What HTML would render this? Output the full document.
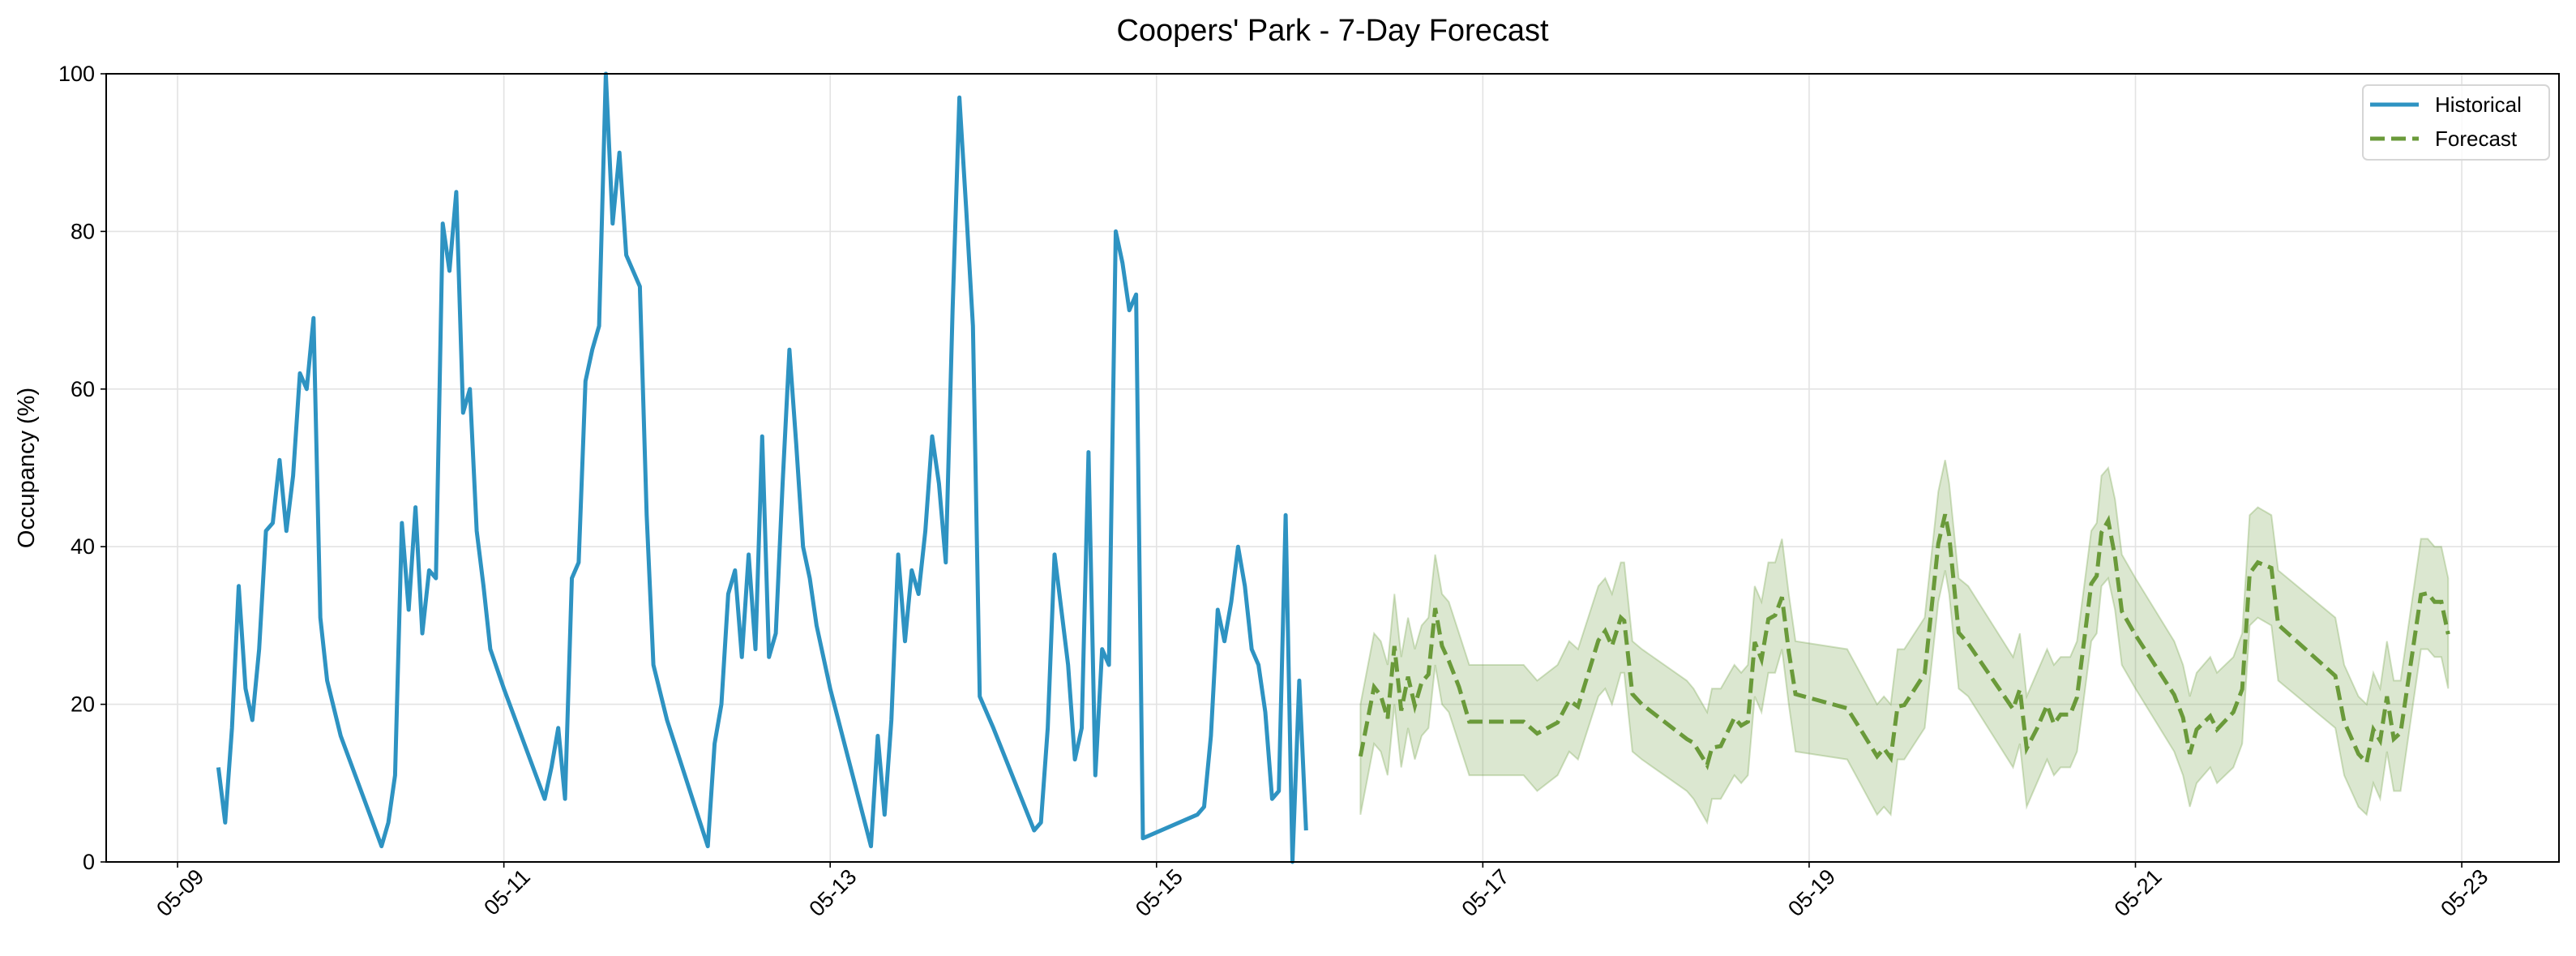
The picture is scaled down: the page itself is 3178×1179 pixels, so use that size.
<!DOCTYPE html>
<html><head><meta charset="utf-8">
<style>
html,body{margin:0;padding:0;background:#fff;}
svg{display:block;font-family:"Liberation Sans","DejaVu Sans",sans-serif;}
</style></head>
<body>
<svg id="chart" width="3178" height="1179" viewBox="0 0 3178 1179" xmlns="http://www.w3.org/2000/svg">
<rect width="3178" height="1179" fill="#fff"/>
<g id="grid"></g>
<g id="series"></g>
<g id="axes"></g>
<text x="1644" y="50" font-size="38" text-anchor="middle" fill="#000">Coopers' Park - 7-Day Forecast</text>
<text x="0" y="0" font-size="29" text-anchor="middle" fill="#000" transform="translate(42,577) rotate(-90)">Occupancy (%)</text>
<g>
<rect x="2915" y="105" width="230" height="92" rx="6" fill="#fff" fill-opacity="0.8" stroke="#d6d6d6" stroke-width="2"/>
<line x1="2924" y1="129" x2="2984" y2="129" stroke="#2e93c2" stroke-width="5"/>
<text x="3004" y="138" font-size="26" fill="#000">Historical</text>
<line x1="2924" y1="171" x2="2984" y2="171" stroke="#6a9a3a" stroke-width="5" stroke-dasharray="18,8"/>
<text x="3004" y="180" font-size="26" fill="#000">Forecast</text>
</g>
</svg>
<script>
// hours since 05-09 00:00
const histHours = [6,7,8,9,10,11,12,13,14,15,16,17,18,19,20,21,22,24,30,31,32,33,34,35,36,37,38,39,40,41,42,43,44,45,46,48,54,55,56,57,58,59,60,61,62,63,64,65,66,68,69,70,72,78,79,80,81,82,83,84,85,86,87,88,89,90,91,92,93,94,96,102,103,104,105,106,107,108,109,110,111,112,113,114,115,116,117,118,120,126,127,128,129,130,131,132,133,134,135,136,137,138,139,140,141,142,150,151,152,153,154,155,156,157,158,159,160,161,162,163,164,165,166];
const histValues = [12,5,17,35,22,18,27,42,43,51,42,49,62,60,69,31,23,16,2,5,11,43,32,45,29,37,36,81,75,85,57,60,42,35,27,22,8,12,17,8,36,38,61,65,68,100,81,90,77,73,44,25,18,2,15,20,34,37,26,39,27,54,26,29,48,65,53,40,36,30,22,2,16,6,18,39,28,37,34,42,54,48,38,70,97,83,68,21,17,4,5,17,39,32,25,13,17,52,11,27,25,80,76,70,72,3,6,7,16,32,28,33,40,35,27,25,19,8,9,44,0,23,4];
const fcHours = [174,176,177,178,179,180,181,182,183,184,185,186,187,188.5,190,198,200,203,204.7,206,209,210,211,212.3,212.8,214,215.4,222,223,225,225.7,227,229,230,231,232,233,234,235,236,237,238,245.6,247.5,250,251,252,253,254,257,259,260,260.6,262,263.4,270,271,272,273.5,275,276,277,278.4,279.4,281.5,282.3,283,284,285,286,288,293.7,295,296,297,299,300,302.4,303.7,304.8,306,308,309,317.4,318.7,320.8,322,323,324,325,326,327,330,331,332,333,334];
const fcMean = [13.4,22.2,21.1,18.2,27.4,19.2,23.5,19.8,22.8,23.8,32.2,27.4,25.5,22.2,17.8,17.8,16.3,17.7,20.5,19.7,28.1,29.3,27.4,31.0,30.6,21.3,20.0,15.6,15.1,12.3,14.5,14.7,18.3,17.3,17.8,27.9,25.7,30.8,31.3,33.6,26.7,21.3,19.5,16.9,13.4,14.4,13.2,19.7,19.9,23.9,40.4,44.1,41.4,29.1,27.7,19.4,21.9,14.4,16.9,19.9,17.5,18.7,18.7,20.9,35.3,36.3,41.8,43.3,38.7,31.8,28.8,21.2,18.3,13.7,16.8,18.5,16.8,19.0,21.9,36.6,38.0,37.3,30.1,23.6,17.8,13.7,12.6,16.8,15.4,21.0,15.6,16.4,33.9,34.1,33.0,33.0,28.9];
const fcUpper = [20,29,28,25,34,26,31,27,30,31,39,34,33,29,25,25,23,25,28,27,35,36,34,38,38,28,27,23,22,19,22,22,25,24,25,35,33,38,38,41,34,28,27,24,20,21,20,27,27,31,47,51,48,36,35,26,29,21,24,27,25,26,26,28,42,43,49,50,46,39,36,28,25,21,24,26,24,26,29,44,45,44,37,31,25,21,20,24,22,28,23,23,41,41,40,40,36];
const fcLower = [6,15,14,11,20,12,17,13,16,17,25,20,19,15,11,11,9,11,14,13,21,22,20,24,24,14,13,9,8,5,8,8,11,10,11,21,19,24,24,27,20,14,13,10,6,7,6,13,13,17,33,37,34,22,21,12,15,7,10,13,11,12,12,14,28,29,35,36,32,25,22,14,11,7,10,12,10,12,15,30,31,30,23,17,11,7,6,10,8,14,9,9,27,27,26,26,22];
const xTickHours = [0,48,96,144,192,240,288,336];
const xTickLabels = ["05-09","05-11","05-13","05-15","05-17","05-19","05-21","05-23"];
const yTicks = [0,20,40,60,80,100];

const L=131,R=3157,T=91,B=1063;
const hMin=-10.5,hMax=350.3;
function xs(h){return L+(h-hMin)/(hMax-hMin)*(R-L);}
function ys(v){return B-v/100*(B-T);}
const NS="http://www.w3.org/2000/svg";
function mk(tag,attrs,parent){const e=document.createElementNS(NS,tag);for(const k in attrs)e.setAttribute(k,attrs[k]);parent.appendChild(e);return e;}
const grid=document.getElementById('grid'),series=document.getElementById('series'),axes=document.getElementById('axes');

xTickHours.forEach((h,i)=>{
  const x=xs(h);
  const g=mk('line',{x1:x,y1:T,x2:x,y2:B,stroke:'#e3e3e3','stroke-width':1.6},grid);
  
  
  const t=mk('line',{x1:x,y1:B,x2:x,y2:B+7,stroke:'#000','stroke-width':1.6},axes);
  
  
  const lb=mk('text',{x:0,y:0,'font-size':27,'text-anchor':'end',fill:'#000',transform:`translate(${x+34},${B+20}) rotate(-45)`},axes);
  lb.textContent=xTickLabels[i];
  
  
});
yTicks.forEach(v=>{
  const y=ys(v);
  const g=mk('line',{x1:L,y1:y,x2:R,y2:y,stroke:'#e3e3e3','stroke-width':1.6},grid);
  
  
  const t=mk('line',{x1:L-7,y1:y,x2:L,y2:y,stroke:'#000','stroke-width':1.6},axes);
  
  
  const lb=mk('text',{x:L-14,y:y+9,'font-size':27,'text-anchor':'end',fill:'#000'},axes);
  lb.textContent=String(v);
  
  
});

// confidence band
let d='';
fcHours.forEach((h,i)=>{d+=(i?'L':'M')+xs(h).toFixed(1)+','+ys(fcUpper[i]).toFixed(1);});
for(let i=fcHours.length-1;i>=0;i--){d+='L'+xs(fcHours[i]).toFixed(1)+','+ys(fcLower[i]).toFixed(1);}
d+='Z';
const band=mk('path',{d:d,fill:'#6a9a3a','fill-opacity':0.24,stroke:'#6a9a3a','stroke-opacity':0.3,'stroke-width':2},series);



const hp=histHours.map((h,i)=>xs(h).toFixed(1)+','+ys(histValues[i]).toFixed(1)).join(' ');
const hl=mk('polyline',{points:hp,fill:'none',stroke:'#2e93c2','stroke-width':5,'stroke-linejoin':'round'},series);



const fp=fcHours.map((h,i)=>xs(h).toFixed(1)+','+ys(fcMean[i]).toFixed(1)).join(' ');
const fl=mk('polyline',{points:fp,fill:'none',stroke:'#6a9a3a','stroke-width':5,'stroke-dasharray':'18,8'},series);



const frame=mk('rect',{x:L,y:T,width:R-L,height:B-T,fill:'none',stroke:'#000','stroke-width':2},axes);


</script>
</body></html>
